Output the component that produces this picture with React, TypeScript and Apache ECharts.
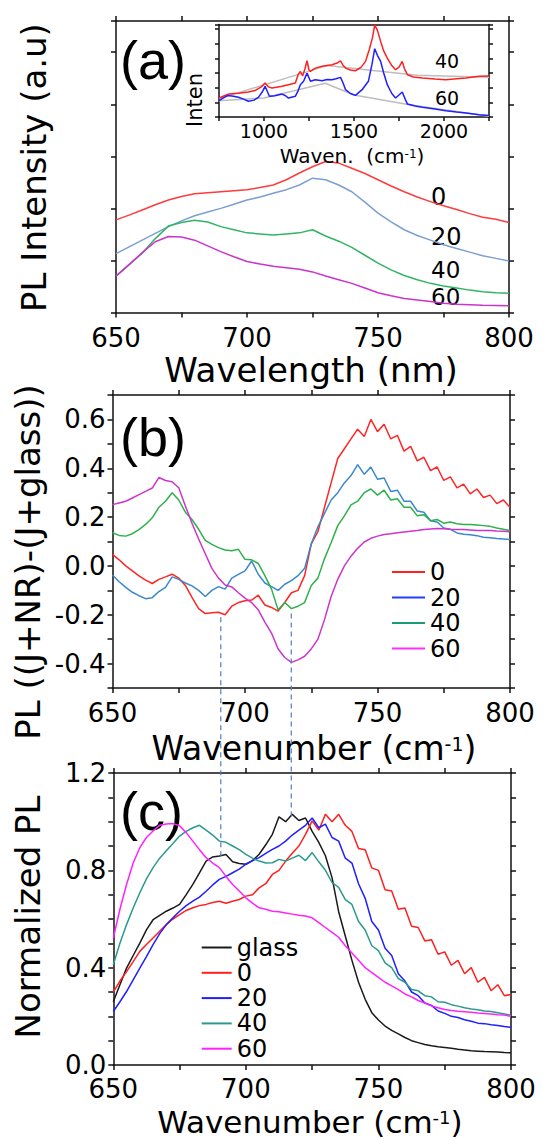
import React, { useEffect, useRef } from "react";
import * as echarts from "echarts";

const FONT = "DejaVu Sans";
const AX = "#111";

// ---------- Panel (a): PL intensity vs wavelength (step 5 nm) ----------
const range = (a: number, b: number, s: number) => {
  const out: number[] = [];
  for (let v = a; v <= b + 1e-9; v += s) out.push(Math.round(v * 10) / 10);
  return out;
};
const A_WL = range(650, 800, 5);
const A_0 = [1.78, 1.87, 1.97, 2.07, 2.16, 2.23, 2.28, 2.3, 2.32, 2.34,
  2.36, 2.4, 2.45, 2.55, 2.68, 2.8, 2.9, 2.87, 2.77, 2.67,
  2.55, 2.43, 2.32, 2.22, 2.13, 2.05, 1.98, 1.9, 1.83, 1.79, 1.73];
const A_20 = [1.13, 1.26, 1.39, 1.52, 1.65, 1.76, 1.86, 1.93, 2.0, 2.08,
  2.16, 2.22, 2.29, 2.36, 2.45, 2.58, 2.55, 2.45, 2.32, 2.12,
  1.91, 1.74, 1.59, 1.48, 1.39, 1.3, 1.23, 1.16, 1.09, 1.04, 0.99];
const A_40 = [0.7, 0.92, 1.14, 1.42, 1.66, 1.73, 1.77, 1.74, 1.65, 1.59,
  1.53, 1.51, 1.49, 1.51, 1.53, 1.59, 1.47, 1.37, 1.25, 1.1,
  0.95, 0.82, 0.71, 0.63, 0.56, 0.51, 0.47, 0.43, 0.4, 0.38, 0.37];
const A_60 = [0.7, 0.92, 1.15, 1.36, 1.46, 1.45, 1.39, 1.28, 1.17, 1.07,
  0.98, 0.93, 0.89, 0.86, 0.83, 0.78, 0.7, 0.63, 0.56, 0.47,
  0.38, 0.32, 0.27, 0.24, 0.21, 0.18, 0.16, 0.15, 0.14, 0.135, 0.13];

// ---------- Inset: Raman-like spectra ----------
const IN40_X = [750, 780, 802, 858, 913, 950, 985, 1006, 1025, 1044, 1100, 1136, 1174, 1190, 1202, 1215, 1228, 1239, 1250, 1258,
  1285, 1323, 1378, 1410, 1425, 1440, 1453, 1480, 1508, 1540, 1564, 1585, 1602, 1615, 1630, 1648, 1665, 1685, 1710, 1731,
  1750, 1768, 1780, 1797, 1830, 1880, 1950, 2010, 2070, 2122, 2196, 2250];
const IN40_Y = [1.29, 1.45, 1.56, 1.61, 1.7, 1.8, 2.05, 2.31, 2.05, 1.97, 2.09, 2.2, 2.31, 2.9, 3.1, 2.8, 3.3, 3.83, 3.2, 3.11,
  3.33, 3.45, 3.56, 3.7, 3.83, 3.5, 3.33, 3.2, 3.15, 3.4, 3.79, 4.6, 5.37, 6.28, 5.9, 5.15, 4.5, 4.01, 3.5, 3.22,
  3.4, 3.79, 3.3, 2.88, 2.72, 2.65, 2.58, 2.54, 2.6, 2.65, 2.77, 2.8];
const IN60_X = [750, 775, 800, 830, 858, 890, 913, 945, 969, 990, 1006, 1030, 1060, 1100, 1120, 1136, 1174, 1190, 1202, 1220,
  1239, 1258, 1285, 1323, 1350, 1378, 1400, 1425, 1440, 1453, 1480, 1508, 1545, 1580, 1600, 1615, 1630, 1648, 1665, 1685,
  1710, 1731, 1750, 1768, 1785, 1797, 1840, 1880, 1950, 2010, 2070, 2122, 2196, 2250];
const IN60_Y = [1.11, 1.3, 1.47, 1.42, 1.34, 1.2, 1.07, 1.15, 1.34, 1.7, 2.09, 1.41, 1.45, 1.56, 1.45, 1.29, 1.41, 1.8, 2.2, 2.43,
  2.99, 2.43, 2.54, 2.47, 2.55, 2.54, 2.6, 2.7, 2.3, 1.86, 1.6, 1.47, 1.86, 2.43, 3.6, 4.65, 4.2, 3.79, 3.0, 2.2,
  1.6, 1.29, 1.5, 1.7, 1.2, 0.88, 0.75, 0.66, 0.55, 0.43, 0.34, 0.27, 0.16, 0.1];
const BASE40_X = [750, 1350, 1850, 2250];
const BASE40_Y = [1.25, 3.5, 2.85, 2.7];
const BASE60_X = [750, 1000, 1340, 1500, 1800, 2250];
const BASE60_Y = [1.1, 1.3, 2.3, 1.5, 0.85, 0.05];

// ---------- Panel (b): difference spectra (step 2.5) ----------
const WN = range(650, 800, 2.5);
const B_0 = [0.047, 0.025, 0.0, -0.02, -0.041, -0.058, -0.072, -0.055, -0.045, -0.034,
  -0.05, -0.08, -0.129, -0.175, -0.195, -0.192, -0.19, -0.2, -0.165, -0.15,
  -0.143, -0.14, -0.12, -0.16, -0.17, -0.185, -0.15, -0.11, -0.1, -0.04,
  0.09, 0.14, 0.24, 0.34, 0.44, 0.48, 0.52, 0.56, 0.53, 0.6,
  0.55, 0.58, 0.52, 0.535, 0.47, 0.49, 0.43, 0.445, 0.39, 0.405,
  0.35, 0.365, 0.32, 0.335, 0.295, 0.315, 0.28, 0.29, 0.255, 0.27, 0.24];
const B_20 = [-0.037, -0.065, -0.088, -0.108, -0.122, -0.134, -0.13, -0.105, -0.088, -0.045,
  -0.055, -0.07, -0.082, -0.1, -0.125, -0.1, -0.085, -0.095, -0.05, -0.035,
  -0.02, 0.02, -0.034, -0.07, -0.085, -0.1, -0.075, -0.06, -0.04, -0.01,
  0.09, 0.16, 0.215, 0.27, 0.3, 0.34, 0.37, 0.415, 0.375, 0.405,
  0.355, 0.36, 0.305, 0.31, 0.265, 0.265, 0.225, 0.22, 0.185, 0.18,
  0.155, 0.15, 0.135, 0.13, 0.128, 0.124, 0.117, 0.115, 0.112, 0.11, 0.108];
const B_40 = [0.136, 0.125, 0.122, 0.132, 0.149, 0.17, 0.197, 0.24, 0.265, 0.3,
  0.27, 0.22, 0.19, 0.15, 0.105, 0.088, 0.075, 0.065, 0.062, 0.068,
  0.027, 0.025, 0.01, -0.04, -0.095, -0.18, -0.15, -0.175, -0.165, -0.15,
  -0.08, -0.05, 0.03, 0.095, 0.165, 0.205, 0.25, 0.265, 0.3, 0.315,
  0.29, 0.31, 0.27, 0.275, 0.24, 0.24, 0.205, 0.21, 0.185, 0.19,
  0.175, 0.18, 0.173, 0.17, 0.17, 0.168, 0.165, 0.162, 0.155, 0.15, 0.145];
const B_60 = [0.251, 0.258, 0.265, 0.278, 0.292, 0.305, 0.319, 0.362, 0.35, 0.345,
  0.32, 0.245, 0.175, 0.11, 0.05, -0.01, -0.05, -0.078, -0.086, -0.11,
  -0.132, -0.15, -0.18, -0.23, -0.275, -0.34, -0.375, -0.395, -0.385, -0.37,
  -0.34, -0.3, -0.22, -0.125, -0.055, 0.0, 0.04, 0.072, 0.098, 0.113,
  0.122, 0.129, 0.132, 0.136, 0.139, 0.142, 0.145, 0.149, 0.151, 0.153,
  0.152, 0.15, 0.149, 0.149, 0.147, 0.145, 0.145, 0.145, 0.143, 0.142, 0.14];

// ---------- Panel (c): normalized PL (step 2.5) ----------
const C_GLASS = [0.26, 0.33, 0.398, 0.45, 0.501, 0.555, 0.597, 0.615, 0.632, 0.645,
  0.66, 0.7, 0.742, 0.79, 0.838, 0.855, 0.859, 0.865, 0.835, 0.828,
  0.825, 0.84, 0.866, 0.905, 0.948, 1.02, 1.0, 1.03, 1.005, 1.015,
  0.96, 0.915, 0.86, 0.77, 0.63, 0.53, 0.43, 0.34, 0.27, 0.215,
  0.185, 0.16, 0.142, 0.128, 0.113, 0.1, 0.092, 0.084, 0.079, 0.075,
  0.072, 0.069, 0.065, 0.062, 0.059, 0.057, 0.055, 0.054, 0.053, 0.051, 0.05];
const C_0 = [0.3, 0.345, 0.384, 0.425, 0.467, 0.495, 0.522, 0.55, 0.577, 0.6,
  0.618, 0.635, 0.646, 0.655, 0.66, 0.668, 0.673, 0.665, 0.673, 0.68,
  0.694, 0.7, 0.728, 0.745, 0.783, 0.8, 0.838, 0.87, 0.9, 0.948,
  1.003, 0.965, 1.03, 1.0, 1.03, 0.985, 0.96, 0.89, 0.885, 0.81,
  0.8, 0.72, 0.715, 0.64, 0.645, 0.57, 0.565, 0.51, 0.515, 0.455,
  0.465, 0.41, 0.43, 0.375, 0.4, 0.34, 0.36, 0.305, 0.33, 0.285, 0.29];
const C_20 = [0.22, 0.26, 0.302, 0.35, 0.398, 0.445, 0.495, 0.54, 0.577, 0.605,
  0.632, 0.655, 0.673, 0.69, 0.714, 0.74, 0.763, 0.775, 0.79, 0.805,
  0.825, 0.84, 0.852, 0.87, 0.886, 0.9, 0.92, 0.945, 0.965, 0.985,
  1.015, 0.975, 0.99, 0.935, 0.92, 0.85, 0.83, 0.745, 0.685, 0.59,
  0.555, 0.48, 0.45, 0.375, 0.345, 0.3, 0.285, 0.255, 0.245, 0.222,
  0.212, 0.2, 0.195, 0.186, 0.18, 0.172, 0.17, 0.165, 0.162, 0.158, 0.155];
const C_40 = [0.412, 0.5, 0.577, 0.645, 0.708, 0.765, 0.811, 0.85, 0.88, 0.91,
  0.941, 0.96, 0.975, 0.985, 0.965, 0.945, 0.92, 0.915, 0.9, 0.885,
  0.866, 0.85, 0.838, 0.83, 0.831, 0.845, 0.838, 0.85, 0.862, 0.84,
  0.873, 0.835, 0.8, 0.75, 0.73, 0.68, 0.66, 0.59, 0.555, 0.49,
  0.47, 0.42, 0.4, 0.355, 0.34, 0.31, 0.305, 0.285, 0.28, 0.26,
  0.258, 0.248, 0.242, 0.235, 0.23, 0.227, 0.222, 0.22, 0.215, 0.21, 0.205];
const C_60 = [0.522, 0.64, 0.742, 0.83, 0.893, 0.935, 0.962, 0.985, 0.99, 0.992,
  0.983, 0.955, 0.92, 0.885, 0.852, 0.83, 0.811, 0.775, 0.742, 0.715,
  0.687, 0.665, 0.646, 0.64, 0.632, 0.63, 0.625, 0.62, 0.615, 0.612,
  0.605, 0.585, 0.565, 0.545, 0.525, 0.49, 0.46, 0.43, 0.4, 0.38,
  0.36, 0.34, 0.325, 0.31, 0.292, 0.28, 0.265, 0.255, 0.243, 0.235,
  0.228, 0.224, 0.221, 0.219, 0.217, 0.214, 0.212, 0.21, 0.207, 0.205, 0.2];

// dashed guide lines: x position, top value in (b), bottom value in (c)
const DASH_X = [690.7, 717.3];
const DASH_B = [-0.21, -0.195];
const DASH_C = [0.84, 1.01];

const pts = (xs: number[], ys: number[]) => xs.map((x, i) => [x, ys[i]]);

function xAxes(grid: number, min: number, max: number, interval: number, every: number, labels: boolean, fontSize: number, margin: number, topTicks: boolean) {
  const common: any = {
    type: "value", gridIndex: grid, min, max, interval,
    splitLine: { show: false },
    axisLine: { show: true, onZero: false, lineStyle: { color: AX, width: 1.5 } },
    axisTick: { show: true, length: 5, lineStyle: { color: AX, width: 1.5 } },
  };
  return [
    {
      ...common, position: "bottom",
      axisLabel: {
        show: labels, margin, fontSize, fontFamily: FONT, color: "#000", lineHeight: Math.round(fontSize * 0.85),
        formatter: (v: number) => (Math.abs(v % every) < 1e-6 ? String(v) : ""),
      },
    },
    { ...common, position: "top", axisLabel: { show: false }, axisTick: { ...common.axisTick, show: topTicks } },
  ];
}

function yAxes(grid: number, min: number, max: number, interval: number, every: number | null, tickLen: number) {
  const common: any = {
    type: "value", gridIndex: grid, min, max, interval,
    splitLine: { show: false },
    axisLine: { show: true, onZero: false, lineStyle: { color: AX, width: 1.5 } },
    axisTick: { show: true, length: tickLen, lineStyle: { color: AX, width: 1.5 } },
  };
  return [
    {
      ...common, position: "left",
      axisLabel: {
        show: every !== null, margin: 7, fontSize: 26, fontFamily: FONT, color: "#000", lineHeight: 22,
        formatter: (v: number) => {
          const k = Math.round(v * 10);
          const e = Math.round((every || 1) * 10);
          return k % e === 0 ? (k / 10).toFixed(1) : "";
        },
      },
    },
    { ...common, position: "right", axisLabel: { show: false } },
  ];
}

function line(name: string, data: number[][], idx: number, color: string, width = 1.5) {
  return {
    type: "line", name, data, xAxisIndex: idx, yAxisIndex: idx,
    symbol: "none", showSymbol: false, silent: true,
    lineStyle: { color, width }, itemStyle: { color },
  };
}

const txt = (text: string, x: number, y: number, size: number, extra: any = {}, el: any = {}) => ({
  type: "text", x, y, ...el,
  style: {
    text, fontSize: size, fontFamily: FONT, fill: "#000", lineHeight: Math.round(size * 0.85),
    align: "center", verticalAlign: "middle", textAlign: "center", textVerticalAlign: "middle",
    ...extra,
  },
});

export default function App() {
  const ref = useRef<HTMLDivElement>(null);
  useEffect(() => {
    const chart = echarts.init(ref.current!, null, { renderer: "svg" });
    const option: any = {
      animation: false,
      backgroundColor: "#fff",
      grid: [
        { left: 116, top: 21, width: 393, height: 291.5 },
        { left: 112.5, top: 395, width: 397.5, height: 293 },
        { left: 113.3, top: 773, width: 397.7, height: 292 },
        { left: 219, top: 24.5, width: 270, height: 92.5, show: true, backgroundColor: "#fff", borderWidth: 0, z: 3 },
      ],
      xAxis: [
        ...xAxes(0, 650, 800, 25, 50, true, 26, 14, true),
        ...xAxes(1, 650, 800, 25, 50, true, 26, 14, true),
        ...xAxes(2, 650, 800, 25, 50, true, 26, 13, true),
        ...xAxes(3, 750, 2250, 250, 500, true, 19, 6, false).map((a: any) => ({ ...a, axisTick: { ...a.axisTick, length: 4 }, z: 4 })),
      ],
      yAxis: [
        ...yAxes(0, 0, 5.6, 1, null, 5),
        ...yAxes(1, -0.5, 0.7, 0.1, 0.2, 5),
        ...yAxes(2, 0, 1.2, 0.1, 0.4, 5),
        ...yAxes(3, 0, 6.3, 1, null, 4).map((a: any) => ({ ...a, z: 4 })),
      ],
      legend: [
        {
          orient: "vertical", left: 392, top: 560, padding: 0, itemGap: 1.5,
          itemWidth: 33, itemHeight: 2, icon: "rect", selectedMode: false,
          formatter: (n: string) => n.slice(1),
          textStyle: { fontSize: 24, fontFamily: FONT, color: "#000", lineHeight: 22 },
          data: [
            { name: "b0", itemStyle: { color: "#ff2020" } },
            { name: "b20", itemStyle: { color: "#1f3fff" } },
            { name: "b40", itemStyle: { color: "#1a9a78" } },
            { name: "b60", itemStyle: { color: "#ff30ff" } },
          ],
        },
        {
          orient: "vertical", left: 201.7, top: 935.5, padding: 0, itemGap: 1.3,
          itemWidth: 30, itemHeight: 2, icon: "rect", selectedMode: false,
          formatter: (n: string) => n.slice(1),
          textStyle: { fontSize: 24, fontFamily: FONT, color: "#000", lineHeight: 22 },
          data: [
            { name: "cglass", itemStyle: { color: "#1a1a1a" } },
            { name: "c0", itemStyle: { color: "#ff1f1f" } },
            { name: "c20", itemStyle: { color: "#1f1fff" } },
            { name: "c40", itemStyle: { color: "#2a9a8c" } },
            { name: "c60", itemStyle: { color: "#ff22ff" } },
          ],
        },
      ],
      series: [
        line("a0", pts(A_WL, A_0), 0, "#ff3b3b"),
        line("a20", pts(A_WL, A_20), 0, "#7b9fd0"),
        line("a40", pts(A_WL, A_40), 0, "#30b565"),
        line("a60", pts(A_WL, A_60), 0, "#cc33cc"),
        line("b0", pts(WN, B_0), 2, "#ff2525"),
        line("b20", pts(WN, B_20), 2, "#3a88cc"),
        line("b40", pts(WN, B_40), 2, "#2eb04c"),
        line("b60", pts(WN, B_60), 2, "#cc35cc"),
        line("cglass", pts(WN, C_GLASS), 4, "#1a1a1a"),
        line("c0", pts(WN, C_0), 4, "#ff1f1f"),
        line("c20", pts(WN, C_20), 4, "#1f1fff"),
        line("c40", pts(WN, C_40), 4, "#2a9a8c"),
        line("c60", pts(WN, C_60), 4, "#ff22ff"),
        { ...line("base40", pts(BASE40_X, BASE40_Y), 6, "#bdbdbd", 1.5), z: 5 },
        { ...line("base60", pts(BASE60_X, BASE60_Y), 6, "#bdbdbd", 1.5), z: 5 },
        { ...line("in40", pts(IN40_X, IN40_Y), 6, "#ff2020"), z: 6 },
        { ...line("in60", pts(IN60_X, IN60_Y), 6, "#1f1fff"), z: 6 },
      ],
    };
    chart.setOption(option);

    const px = (i: number, p: number[]) =>
      chart.convertToPixel({ xAxisIndex: i, yAxisIndex: i } as any, p) as unknown as number[];
    const dashes = DASH_X.map((x, i) => {
      const p1 = px(2, [x, DASH_B[i]]);
      const p2 = px(4, [x, DASH_C[i]]);
      const xm = (p1[0] + p2[0]) / 2;
      return {
        type: "line", z: 50,
        shape: { x1: xm, y1: p1[1], x2: xm, y2: p2[1] },
        style: { stroke: "#4f7fc0", lineWidth: 1.2, lineDash: [5, 4] },
      };
    });

    const sup = (s: number) => ({ sup: { fontSize: s, fontFamily: FONT, verticalAlign: "top", fill: "#000", lineHeight: s } });
    const rot = { rotation: Math.PI / 2 };
    const panelFont = { fontFamily: "Liberation Sans", align: "left", textAlign: "left" };
    const left = { align: "left", textAlign: "left" };

    chart.setOption({
      graphic: [
        txt("(a)", 120, 60, 54, panelFont),
        txt("(b)", 120, 437, 54, panelFont),
        txt("(c)", 120, 811, 54, panelFont),
        txt("PL Intensity (a.u)", 34, 167.5, 34, {}, rot),
        txt("PL ((J+NR)-(J+glass))", 28, 562, 34, {}, rot),
        txt("Normalized PL", 27.5, 917, 34, {}, rot),
        txt("Wavelength (nm)", 311, 370, 34),
        txt("Wavenumber (cm{sup|-1})", 314, 748, 33, { rich: sup(19) }),
        txt("Wavenumber (cm{sup|-1})", 310, 1121.5, 31, { rich: sup(18) }),
        txt("0", 431, 197, 24, left),
        txt("20", 431, 237, 24, left),
        txt("40", 431, 270, 23, left),
        txt("60", 431, 297, 23, left),
        { ...txt("40", 435, 61.3, 19, left), z: 20 },
        { ...txt("60", 435, 97.7, 19, left), z: 20 },
        { ...txt("Waven.  (cm{sup|-1})", 352, 156, 20, { rich: sup(12) }), z: 20 },
        { ...txt("Inten", 195, 100, 21, {}, rot), z: 20 },
        ...dashes,
      ],
    });
    return () => chart.dispose();
  }, []);
  return <div ref={ref} style={{ position: "fixed", left: 0, top: 0, width: 550, height: 1140 }} />;
}
